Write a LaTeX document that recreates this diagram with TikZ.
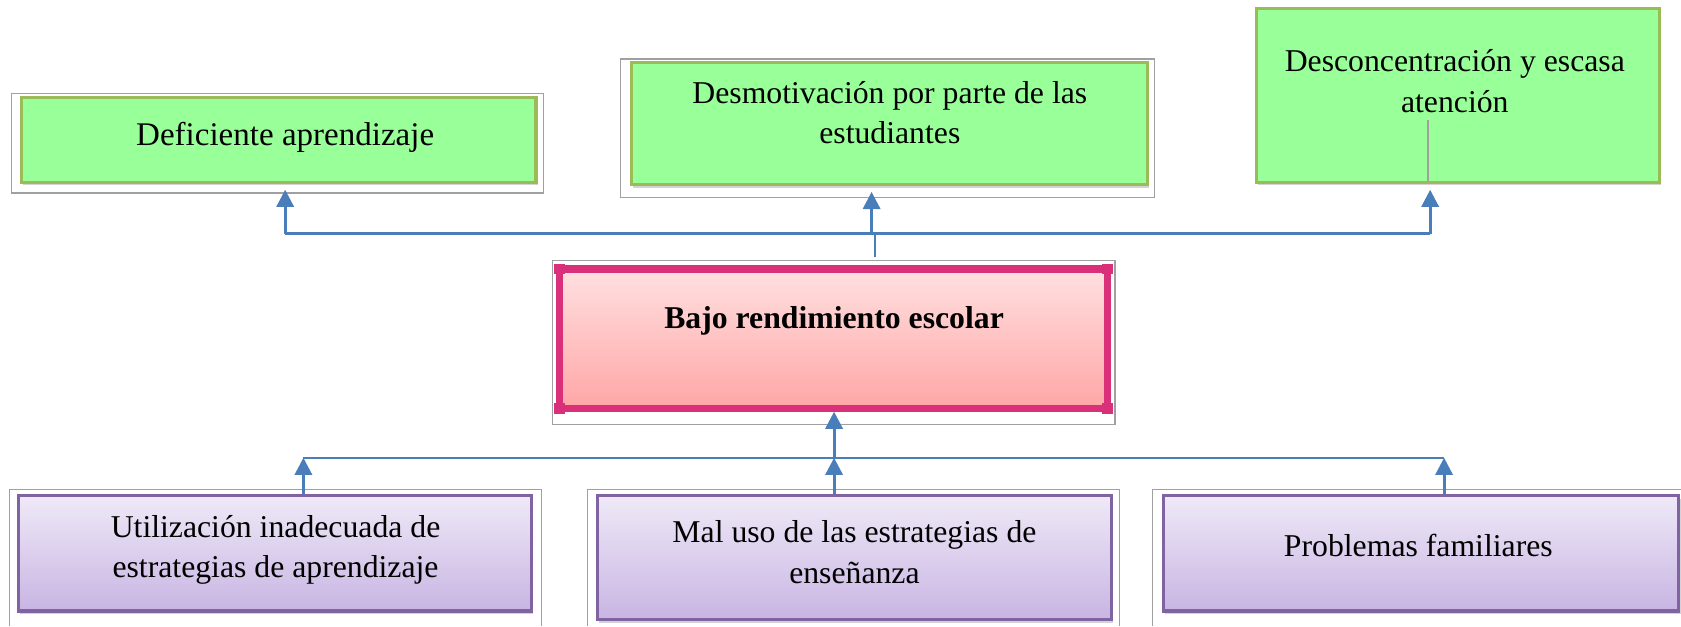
\documentclass[tikz,border=0pt]{standalone}
\usepackage{fontspec}
\setmainfont{Liberation Serif}
\usetikzlibrary{arrows.meta,shadows}
\definecolor{gfill}{HTML}{99FF99}
\definecolor{gline}{HTML}{9BBB59}
\definecolor{pline}{HTML}{D93079}
\definecolor{ptop}{HTML}{FFE0E0}
\definecolor{pbot}{HTML}{FFA6A6}
\definecolor{vline}{HTML}{8064A2}
\definecolor{vtop}{HTML}{EFE9F7}
\definecolor{vbot}{HTML}{C8B5E3}
\definecolor{arr}{HTML}{4A7EBB}
\definecolor{frm}{HTML}{A0A0A0}
\tikzset{
  txt/.style={font=\fontsize{14.8}{19}\selectfont, align=center, inner sep=0pt},
  greenbox/.style={draw=gline, line width=1.5pt, fill=gfill, inner sep=0pt,
    drop shadow={shadow xshift=0.8pt, shadow yshift=-1.5pt, opacity=0.35}},
  pinkbox/.style={draw=pline, line width=3.5pt, top color=ptop, bottom color=pbot, inner sep=0pt},
  violetbox/.style={draw=vline, line width=1.5pt, top color=vtop, bottom color=vbot, inner sep=0pt,
    drop shadow={shadow xshift=0.8pt, shadow yshift=-1.5pt, opacity=0.35}},
  frame/.style={draw=frm, line width=0.5pt},
  conn/.style={draw=arr, line width=1.4pt},
  thinconn/.style={draw=arr, line width=0.8pt},
  arrowup/.style={draw=arr, line width=1.4pt, -{Triangle[width=8pt,length=8pt]}},
}
\begin{document}
\begin{tikzpicture}[x=0.5pt,y=-0.5pt]
\useasboundingbox (0,0) rectangle (1568,584);
% outer frames
\draw[frame] (11,87) rectangle (507,180);
\draw[frame] (579,55) rectangle (1077,184);
\draw[frame] (1549,8) -- (1549,115);
\draw[frame] (515,243) rectangle (1040,396);
\draw[frame] (9,584) -- (9,457) -- (505,457) -- (505,584);
\draw[frame] (548,584) -- (548,457) -- (1044,457) -- (1044,584);
\draw[frame] (1075,584) -- (1075,457) -- (1568,457);
% top boxes
\node[greenbox, minimum width=240pt, minimum height=39.5pt] (b1) at (260,130.5) {};
\node[txt, font=\fontsize{15.4}{19}\selectfont] (t1) at (266,128) {Deficiente aprendizaje};
\node[greenbox, minimum width=240.5pt, minimum height=57pt] (b2) at (829.5,115) {};
\node[txt] (t2) at (830,105) {Desmotivación por parte de las\\estudiantes};
\node[greenbox, minimum width=188pt, minimum height=81pt] (b3) at (1360,89) {};
\node[txt] (t3) at (1357,76) {Desconcentración y escasa\\atención};
\draw[frame] (1332,112) -- (1332,169);
% center box
\node[pinkbox, minimum width=255.5pt, minimum height=65pt] (c) at (777.5,316) {};
\foreach \cx/\cy in {522/251,1033/251,522/381,1033/381}
  \fill[pline] (\cx-5,\cy-5) rectangle (\cx+5,\cy+5);
\node[txt, font=\fontsize{14.8}{19}\selectfont\bfseries] (tc) at (778,299) {Bajo rendimiento escolar};
% bottom boxes
\node[violetbox, minimum width=239.5pt, minimum height=54pt] (b4) at (256.5,516) {};
\node[txt] (t4) at (257,513) {Utilización inadecuada de\\estrategias de aprendizaje};
\node[violetbox, minimum width=240pt, minimum height=58pt] (b5) at (797,520) {};
\node[txt] (t5) at (797,515) {Mal uso de las estrategias de\\enseñanza};
\node[violetbox, minimum width=240.5pt, minimum height=54pt] (b6) at (1325.5,516) {};
\node[txt] (t6) at (1323,509) {Problemas familiares};
% top connectors
\coordinate (ja) at (266,218);
\coordinate (jb) at (813,218);
\coordinate (jc) at (1334,218);
\coordinate (jm) at (816,218);
\coordinate (ta) at (266,177);
\coordinate (tb) at (813,179);
\coordinate (tc2) at (1334,177);
\coordinate (cm) at (816,240);
\draw[conn] (ja) -- (jc);
\draw[thinconn] (cm) -- (jm);
\draw[arrowup] (ja) -- (ta);
\draw[arrowup] (jb) -- (tb);
\draw[arrowup] (jc) -- (tc2);
% bottom connectors
\coordinate (ka) at (283,427);
\coordinate (kb) at (778,427);
\coordinate (kc) at (1347,427);
\coordinate (kcb) at (778,384);
\draw[thinconn] (ka) -- (kc);
\draw[arrowup] (kb) -- (kcb);
\draw[arrowup] (b4.north -| ka) -- (ka);
\draw[arrowup] (b5.north -| kb) -- (kb);
\draw[arrowup] (b6.north -| kc) -- (kc);
\end{tikzpicture}
\end{document}
